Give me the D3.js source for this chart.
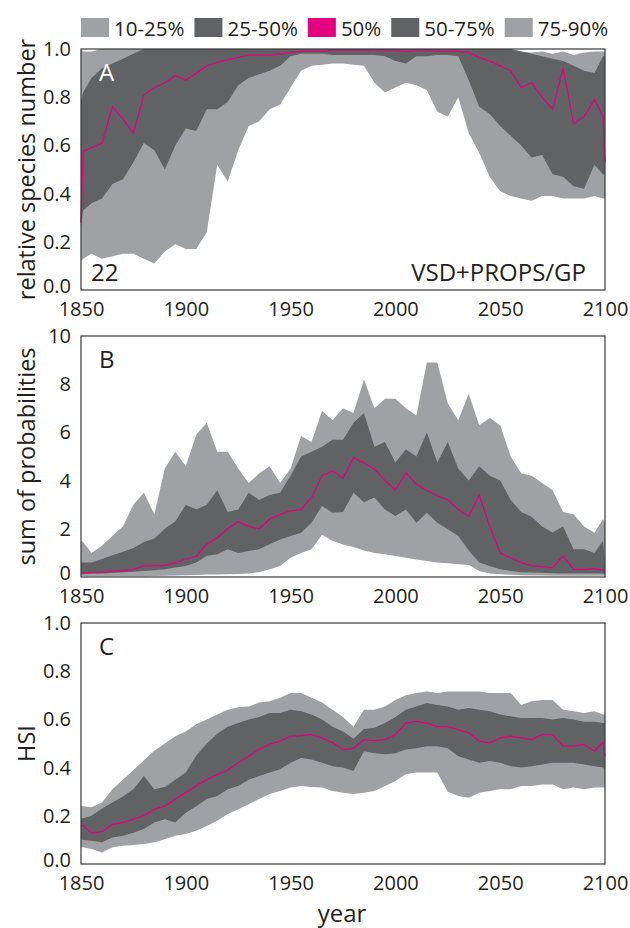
<!DOCTYPE html>
<html>
<head>
<meta charset="utf-8">
<script src="https://cdn.jsdelivr.net/npm/d3@7"></script>
<style>
  html, body { margin: 0; padding: 0; background: #fff; }
  svg { display: block; font-family: "Open Sans", "DejaVu Sans", sans-serif; }
</style>
</head>
<body>
<script>
// Years (5-year steps, plus the edge points)
const years = [1850, 1851, 1855,
  1860, 1865, 1870, 1875, 1880, 1885, 1890, 1895,
  1900, 1905, 1910, 1915, 1920, 1925, 1930, 1935,
  1940, 1945, 1950, 1955, 1960, 1965, 1970, 1975,
  1980, 1985, 1990, 1995, 2000, 2005, 2010, 2015,
  2020, 2025, 2030, 2035, 2040, 2045, 2050, 2055,
  2060, 2065, 2070, 2075, 2080, 2085, 2090, 2095,
  2099, 2100];

// Panel A: relative species number
const aP10 = [0.12, 0.13, 0.15,
  0.13, 0.14, 0.15, 0.15, 0.13, 0.11, 0.16, 0.19,
  0.17, 0.17, 0.24, 0.52, 0.45, 0.58, 0.68, 0.70,
  0.75, 0.77, 0.84, 0.91, 0.93, 0.935, 0.94, 0.94,
  0.935, 0.93, 0.86, 0.82, 0.84, 0.86, 0.85, 0.83,
  0.74, 0.72, 0.80, 0.65, 0.57, 0.47, 0.41, 0.39,
  0.38, 0.37, 0.39, 0.39, 0.38, 0.38, 0.38, 0.39,
  0.38, 0.38];
const aP25 = [0.26, 0.33, 0.36,
  0.38, 0.44, 0.46, 0.53, 0.61, 0.58, 0.50, 0.60,
  0.67, 0.66, 0.75, 0.75, 0.78, 0.85, 0.88, 0.895,
  0.91, 0.93, 0.97, 0.98, 0.98, 0.98, 0.975, 0.975,
  0.975, 0.975, 0.975, 0.97, 0.95, 0.94, 0.97, 0.97,
  0.975, 0.975, 0.97, 0.87, 0.76, 0.73, 0.68, 0.64,
  0.60, 0.55, 0.56, 0.48, 0.47, 0.43, 0.42, 0.52,
  0.48, 0.48];
const aP50 = [0.28, 0.575, 0.59,
  0.61, 0.76, 0.71, 0.65, 0.81, 0.84, 0.86, 0.89,
  0.87, 0.90, 0.93, 0.945, 0.955, 0.965, 0.975, 0.975,
  0.975, 0.98, 0.985, 0.99, 0.99, 0.99, 0.995, 0.995,
  0.995, 0.995, 0.995, 0.995, 0.995, 0.99, 0.995, 0.995,
  0.99, 0.99, 0.99, 0.985, 0.965, 0.95, 0.93, 0.91,
  0.84, 0.86, 0.80, 0.75, 0.92, 0.69, 0.72, 0.79,
  0.72, 0.53];
const aP75 = [0.78, 0.82, 0.88,
  0.92, 0.94, 0.96, 0.98, 1.0, 1.0, 1.0, 1.0,
  1.0, 1.0, 1.0, 1.0, 1.0, 1.0, 1.0, 1.0,
  1.0, 1.0, 1.0, 1.0, 1.0, 1.0, 1.0, 1.0,
  1.0, 1.0, 1.0, 1.0, 1.0, 1.0, 1.0, 1.0,
  1.0, 1.0, 1.0, 1.0, 1.0, 1.0, 1.0, 1.0,
  0.99, 0.98, 0.97, 0.96, 0.95, 0.93, 0.91, 0.90,
  0.97, 0.97];
const aP90 = [1.0, 0.99, 0.99,
  1.0, 1.0, 1.0, 1.0, 1.0, 1.0, 1.0, 1.0,
  1.0, 1.0, 1.0, 1.0, 1.0, 1.0, 1.0, 1.0,
  1.0, 1.0, 1.0, 1.0, 1.0, 1.0, 1.0, 1.0,
  1.0, 1.0, 1.0, 1.0, 1.0, 1.0, 1.0, 1.0,
  1.0, 1.0, 1.0, 1.0, 1.0, 1.0, 1.0, 1.0,
  0.99, 0.985, 0.99, 0.98, 0.99, 0.975, 0.985, 0.99,
  0.99, 0.99];

// Panel B: sum of probabilities
const bP10 = [0.03, 0.03, 0.03,
  0.03, 0.03, 0.03, 0.03, 0.03, 0.04, 0.05, 0.06,
  0.07, 0.08, 0.1, 0.1, 0.11, 0.12, 0.15, 0.2,
  0.32, 0.46, 0.8, 1.0, 1.15, 1.75, 1.5, 1.35,
  1.25, 1.1, 1.0, 0.94, 0.87, 0.8, 0.73, 0.66,
  0.6, 0.57, 0.53, 0.5, 0.25, 0.15, 0.11, 0.09,
  0.07, 0.06, 0.06, 0.05, 0.05, 0.05, 0.05, 0.05,
  0.05, 0.05];
const bP25 = [0.11, 0.11, 0.13,
  0.15, 0.17, 0.2, 0.22, 0.25, 0.28, 0.32, 0.39,
  0.46, 0.6, 0.87, 0.94, 1.15, 1.0, 1.08, 1.15,
  1.36, 1.56, 1.7, 1.84, 2.25, 2.95, 2.67, 2.7,
  3.5, 3.1, 3.3, 2.8, 2.53, 2.8, 2.25, 2.67,
  2.25, 1.98, 1.7, 1.1, 0.6, 0.46, 0.32, 0.25,
  0.2, 0.19, 0.18, 0.16, 0.15, 0.15, 0.15, 0.15,
  0.15, 0.1];
const bP50 = [0.18, 0.18, 0.19,
  0.2, 0.23, 0.26, 0.32, 0.46, 0.46, 0.48, 0.6,
  0.73, 0.87, 1.35, 1.63, 2.0, 2.3, 2.1, 2.0,
  2.4, 2.6, 2.74, 2.8, 3.3, 4.2, 4.4, 4.1,
  4.95, 4.74, 4.47, 4.0, 3.6, 4.33, 3.85, 3.6,
  3.36, 3.2, 2.8, 2.53, 3.4, 2.1, 1.0, 0.8,
  0.6, 0.46, 0.43, 0.39, 0.87, 0.32, 0.32, 0.35,
  0.3, 0.2];
const bP75 = [0.6, 0.6, 0.6,
  0.75, 0.9, 1.05, 1.2, 1.45, 1.6, 2.0, 2.3,
  3.0, 2.8, 3.0, 3.6, 2.7, 2.8, 3.5, 3.2,
  3.4, 3.5, 4.2, 5.0, 5.2, 5.4, 5.7, 5.7,
  6.4, 6.8, 5.4, 5.6, 4.75, 5.3, 5.0, 6.0,
  4.75, 5.6, 4.5, 4.0, 4.6, 4.2, 4.0, 3.2,
  2.7, 2.5, 2.1, 1.85, 2.1, 1.15, 1.15, 1.0,
  1.5, 0.5];
const bP90 = [1.5, 1.45, 1.0,
  1.3, 1.7, 2.1, 3.0, 3.5, 2.6, 4.5, 5.2,
  4.6, 5.9, 6.4, 5.2, 5.2, 4.5, 3.9, 4.3,
  4.6, 3.9, 4.5, 5.85, 5.6, 6.9, 6.5, 7.0,
  6.8, 8.2, 7.0, 7.4, 7.4, 7.0, 6.7, 8.9,
  8.9, 7.2, 6.5, 7.6, 6.3, 6.6, 6.3, 5.0,
  4.3, 4.2, 3.9, 3.6, 2.7, 2.6, 2.1, 1.84,
  2.4, 2.25];

// Panel C: HSI
const cP10 = [0.07, 0.07, 0.062,
  0.048, 0.07, 0.076, 0.079, 0.083, 0.09, 0.103, 0.117,
  0.124, 0.138, 0.158, 0.179, 0.207, 0.227, 0.248, 0.27,
  0.29, 0.303, 0.317, 0.324, 0.32, 0.317, 0.303, 0.296,
  0.29, 0.296, 0.303, 0.324, 0.344, 0.372, 0.38, 0.38,
  0.38, 0.30, 0.282, 0.275, 0.296, 0.303, 0.31, 0.31,
  0.324, 0.324, 0.33, 0.33, 0.31, 0.317, 0.31, 0.317,
  0.317, 0.317];
const cP25 = [0.103, 0.1, 0.096,
  0.09, 0.11, 0.117, 0.13, 0.145, 0.172, 0.186, 0.172,
  0.213, 0.24, 0.27, 0.282, 0.31, 0.324, 0.35, 0.365,
  0.38, 0.393, 0.42, 0.44, 0.434, 0.42, 0.406, 0.40,
  0.386, 0.468, 0.46, 0.455, 0.46, 0.475, 0.48, 0.489,
  0.489, 0.48, 0.447, 0.434, 0.42, 0.427, 0.42, 0.406,
  0.40, 0.406, 0.413, 0.42, 0.42, 0.42, 0.413, 0.406,
  0.40, 0.393];
const cP50 = [0.16, 0.16, 0.128,
  0.134, 0.165, 0.172, 0.186, 0.2, 0.227, 0.24, 0.27,
  0.296, 0.324, 0.35, 0.372, 0.39, 0.42, 0.447, 0.475,
  0.496, 0.51, 0.53, 0.533, 0.537, 0.523, 0.503, 0.475,
  0.48, 0.516, 0.512, 0.516, 0.537, 0.585, 0.592, 0.585,
  0.57, 0.57, 0.558, 0.544, 0.51, 0.503, 0.523, 0.53,
  0.523, 0.516, 0.537, 0.537, 0.489, 0.489, 0.496, 0.468,
  0.505, 0.447];
const cP75 = [0.19, 0.19, 0.2,
  0.23, 0.255, 0.28, 0.31, 0.365, 0.31, 0.32, 0.35,
  0.38, 0.45, 0.50, 0.54, 0.57, 0.585, 0.60, 0.61,
  0.627, 0.627, 0.64, 0.634, 0.62, 0.60, 0.57, 0.55,
  0.52, 0.56, 0.565, 0.585, 0.61, 0.64, 0.654, 0.668,
  0.66, 0.654, 0.64, 0.647, 0.64, 0.634, 0.62, 0.613,
  0.606, 0.606, 0.606, 0.60, 0.606, 0.60, 0.59, 0.59,
  0.585, 0.585];
const cP90 = [0.24, 0.24, 0.235,
  0.255, 0.31, 0.35, 0.39, 0.43, 0.47, 0.50, 0.53,
  0.55, 0.58, 0.60, 0.62, 0.64, 0.65, 0.654, 0.67,
  0.675, 0.69, 0.71, 0.71, 0.69, 0.67, 0.64, 0.61,
  0.57, 0.64, 0.64, 0.654, 0.68, 0.70, 0.71, 0.716,
  0.71, 0.716, 0.716, 0.716, 0.716, 0.71, 0.71, 0.71,
  0.66, 0.675, 0.68, 0.68, 0.64, 0.634, 0.627, 0.634,
  0.62, 0.62];

// Tick labels
const xTicks = [1850, 1900, 1950, 2000, 2050, 2100];
const aTicks = [0.0, 0.2, 0.4, 0.6, 0.8, 1.0];
const bTicks = [0, 2, 4, 6, 8, 10];
const cTicks = [0.0, 0.2, 0.4, 0.6, 0.8, 1.0];

// Legend entries
const legendLabels = ["10-25%", "25-50%", "50%", "50-75%", "75-90%"];

document.addEventListener('DOMContentLoaded', function() {
    const W = 630, H = 928;
    const light = '#a0a1a4', dark = '#616264', magenta = '#e4007f', ink = '#231f20';
    const legendColors = [light, dark, magenta, dark, light];

    const svg = d3.select('body').append('svg')
        .attr('width', W).attr('height', H);

    // Legend along the top, laid out left to right
    let lx = 81;
    legendLabels.forEach((lab, i) => {
        svg.append('rect')
            .attr('x', lx).attr('y', 18)
            .attr('width', 28).attr('height', 19)
            .attr('fill', legendColors[i]);
        const t = svg.append('text')
            .attr('x', lx + 33).attr('y', 36)
            .attr('font-size', 20.5).attr('fill', ink)
            .text(lab);
        lx += 33 + t.node().getComputedTextLength() + 10;
    });

    const x = d3.scaleLinear().domain([1850, 2100]).range([81, 605]);

    function drawPanel(cfg) {
        const y = d3.scaleLinear().domain(cfg.domain).range([cfg.top + 241, cfg.top]);
        const g = svg.append('g');

        const rows = years.map((yr, i) => ({
            yr: yr, p10: cfg.p10[i], p25: cfg.p25[i], p50: cfg.p50[i],
            p75: cfg.p75[i], p90: cfg.p90[i]
        }));

        // 10-90% band, then 25-75% band, then the median
        g.append('path').datum(rows)
            .attr('fill', light)
            .attr('d', d3.area().x(d => x(d.yr)).y0(d => y(d.p10)).y1(d => y(d.p90)));
        g.append('path').datum(rows)
            .attr('fill', dark)
            .attr('d', d3.area().x(d => x(d.yr)).y0(d => y(d.p25)).y1(d => y(d.p75)));
        g.append('path').datum(rows)
            .attr('fill', 'none')
            .attr('stroke', magenta)
            .attr('stroke-width', 1.3)
            .attr('d', d3.line().x(d => x(d.yr)).y(d => y(d.p50)));

        // frame
        g.append('rect')
            .attr('x', 81).attr('y', cfg.top)
            .attr('width', 524).attr('height', 241)
            .attr('fill', 'none').attr('stroke', '#3a3738').attr('stroke-width', 1.2);

        // axes without tick marks
        const yAxis = g.append('g')
            .attr('transform', 'translate(81,0)')
            .call(d3.axisLeft(y).tickValues(cfg.ticks).tickSize(0).tickPadding(10)
                .tickFormat(cfg.fmt));
        const xAxis = g.append('g')
            .attr('transform', `translate(0,${cfg.top + 241})`)
            .call(d3.axisBottom(x).tickValues(xTicks).tickSize(0).tickPadding(12)
                .tickFormat(d3.format('d')));
        [yAxis, xAxis].forEach(ax => {
            ax.select('.domain').remove();
            ax.selectAll('text')
                .attr('font-size', 20).attr('fill', ink)
                .style('font-family', '"Open Sans", sans-serif');
        });
        // keep the bottom y label clear of the first year label
        yAxis.selectAll('text').filter(d => d === cfg.ticks[0]).attr('dy', '0.1em');

        // axis title
        g.append('text')
            .attr('transform', `translate(35,${cfg.top + 120.5}) rotate(-90)`)
            .attr('text-anchor', 'middle')
            .attr('font-size', 23.5).attr('fill', ink)
            .text(cfg.title);

        // panel letter
        g.append('text')
            .attr('x', 99).attr('y', cfg.top + 32)
            .attr('font-size', 24).attr('fill', cfg.letterColor)
            .text(cfg.letter);

        return g;
    }

    const gA = drawPanel({ top: 49, domain: [0, 1], p10: aP10, p25: aP25, p50: aP50, p75: aP75, p90: aP90,
        ticks: aTicks, fmt: d3.format('.1f'), title: 'relative species number', letter: 'A', letterColor: '#fff' });
    drawPanel({ top: 336, domain: [0, 10], p10: bP10, p25: bP25, p50: bP50, p75: bP75, p90: bP90,
        ticks: bTicks, fmt: d3.format('d'), title: 'sum of probabilities', letter: 'B', letterColor: ink });
    drawPanel({ top: 623, domain: [0, 1], p10: cP10, p25: cP25, p50: cP50, p75: cP75, p90: cP90,
        ticks: cTicks, fmt: d3.format('.1f'), title: 'HSI', letter: 'C', letterColor: ink });

    // annotations inside panel A
    gA.append('text').attr('x', 91).attr('y', 281)
        .attr('font-size', 24).attr('fill', ink).text('22');
    gA.append('text').attr('x', 586).attr('y', 281).attr('text-anchor', 'end')
        .attr('font-size', 24).attr('fill', ink).text('VSD+PROPS/GP');

    // shared x title
    svg.append('text')
        .attr('x', 342).attr('y', 922)
        .attr('text-anchor', 'middle')
        .attr('font-size', 24).attr('fill', ink)
        .text('year');
});
</script>
</body>
</html>
